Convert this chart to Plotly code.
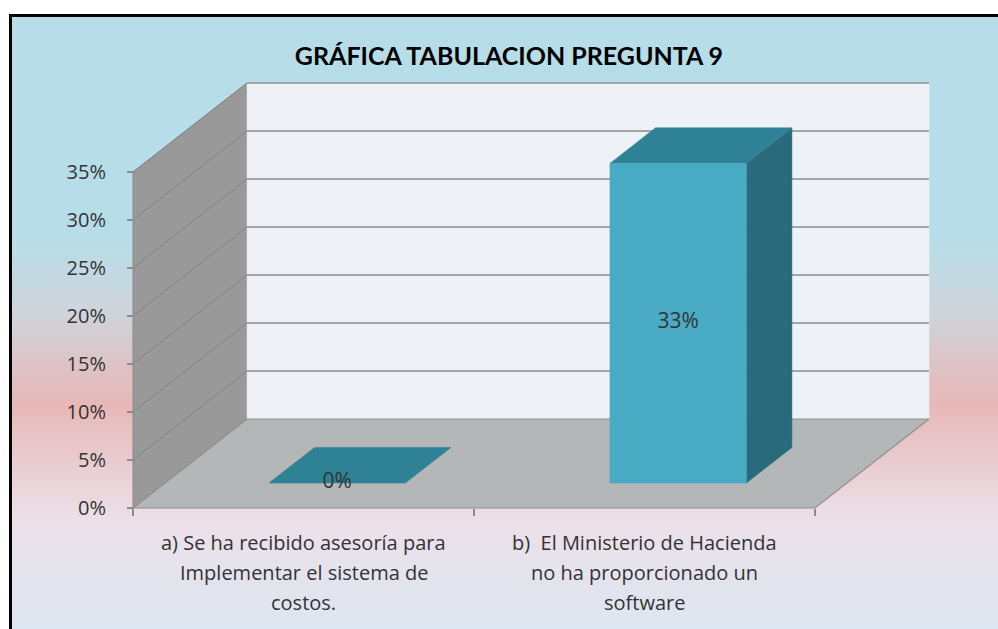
import plotly.graph_objects as go

# ---------------- data ----------------
title_text = "GRÁFICA TABULACION PREGUNTA 9"
categories = [
    "a) Se ha recibido asesoría para<br>Implementar el sistema de<br>costos.",
    "b)  El Ministerio de Hacienda<br>no ha proporcionado un<br>software",
]
values = [0.0, 33.3]
value_labels = ["0%", "33%"]
y_ticks = [0, 5, 10, 15, 20, 25, 30, 35]
y_tick_labels = ["0%", "5%", "10%", "15%", "20%", "25%", "30%", "35%"]

# ---------------- geometry / style ----------------
W, H = 998, 629
PX0, PY0 = 133, 508          # pixel of front-left corner (x=0, y=0)
PX_PER_CAT = 341.0
PX_PER_PCT = 9.6
DX = 114 / PX_PER_CAT        # depth offset (category units)
DY = 89 / PX_PER_PCT         # depth offset (percent units)
WALL_TOP = max(y_ticks)
NCAT = len(categories)
BAR_X0, BAR_X1 = 0.305, 0.705
BAR_D0, BAR_D1 = 0.28, 0.68

FONT = "Open Sans"
TITLE_FONT = "Lato"
C_FRONT = "#4aabc5"
C_TOP = "#2f8195"
C_SIDE = "#296b7b"
C_BACK = "#eef2f7"
C_SIDEWALL = "#999999"
C_FLOOR = "#b4b7b8"
C_GRID = "#8c8c8c"
C_TEXT = "#333333"


def P(x, y, d):
    return x + d * DX, y + d * DY


fig = go.Figure()


def poly(pts, fill, line_color=None, width=0.0):
    xs = [p[0] for p in pts] + [pts[0][0]]
    ys = [p[1] for p in pts] + [pts[0][1]]
    fig.add_trace(go.Scatter(
        x=xs, y=ys, mode="lines", fill="toself", fillcolor=fill,
        line=dict(color=line_color or fill, width=width),
        hoverinfo="skip", showlegend=False))


def seg(p, q, color, width):
    fig.add_trace(go.Scatter(
        x=[p[0], q[0]], y=[p[1], q[1]], mode="lines",
        line=dict(color=color, width=width),
        hoverinfo="skip", showlegend=False))


# side wall (x = 0)
poly([P(0, 0, 0), P(0, WALL_TOP, 0), P(0, WALL_TOP, 1), P(0, 0, 1)],
     C_SIDEWALL, "#8a8a8a", 1)
# back wall
poly([P(0, 0, 1), P(NCAT, 0, 1), P(NCAT, WALL_TOP, 1), P(0, WALL_TOP, 1)],
     C_BACK, C_BACK, 0.5)
# gridlines
for t in y_ticks[1:]:
    seg(P(0, t, 0), P(0, t, 1), "#848484", 1)
    seg(P(0, t, 1), P(NCAT, t, 1), C_GRID, 1.6)
# floor
poly([P(0, 0, 0), P(NCAT, 0, 0), P(NCAT, 0, 1), P(0, 0, 1)],
     C_FLOOR, "#8f8f8f", 1.2)

# bars
for i, v in enumerate(values):
    x0, x1 = i + BAR_X0, i + BAR_X1
    if v > 0:
        poly([P(x1, 0, BAR_D0), P(x1, 0, BAR_D1), P(x1, v, BAR_D1), P(x1, v, BAR_D0)],
             C_SIDE, C_SIDE, 0.5)
    poly([P(x0, v, BAR_D0), P(x1, v, BAR_D0), P(x1, v, BAR_D1), P(x0, v, BAR_D1)],
         C_TOP, C_TOP, 0.5)
    if v > 0:
        poly([P(x0, 0, BAR_D0), P(x1, 0, BAR_D0), P(x1, v, BAR_D0), P(x0, v, BAR_D0)],
             C_FRONT, C_FRONT, 0.5)

# data labels
lx, ly = [], []
for i, v in enumerate(values):
    cx, cy = P(i + (BAR_X0 + BAR_X1) / 2, v / 2, BAR_D0)
    lx.append(cx)
    ly.append(cy)
fig.add_trace(go.Scatter(
    x=lx, y=ly, mode="text", text=value_labels, textposition="middle center",
    textfont=dict(family=FONT, size=21, color=C_TEXT),
    hoverinfo="skip", showlegend=False))

# category labels (one annotation per line for Excel-like line spacing)
annotations = []
for i, cat in enumerate(categories):
    for k, line in enumerate(cat.split("<br>")):
        annotations.append(dict(
            x=i + 0.5, xref="x", y=1 - (542 + 30 * k) / H, yref="paper",
            text=line, showarrow=False, xanchor="center", yanchor="middle",
            font=dict(family=FONT, size=20, color=C_TEXT)))

# background gradient bands + border
stops = [(0, (183, 222, 232)), (240, (183, 222, 232)), (310, (206, 212, 220)),
         (405, (231, 184, 183)), (520, (236, 224, 233)), (629, (221, 230, 242))]


def col_at(y):
    for (y0, c0), (y1, c1) in zip(stops[:-1], stops[1:]):
        if y0 <= y <= y1:
            t = (y - y0) / (y1 - y0) if y1 > y0 else 0
            return "rgb(%d,%d,%d)" % tuple(round(a + (b - a) * t) for a, b in zip(c0, c1))
    return "rgb(%d,%d,%d)" % stops[-1][1]


shapes = []
band = 4
y = 16
while y < H:
    shapes.append(dict(type="rect", xref="paper", yref="paper", layer="below",
                       x0=11 / W, x1=1, y0=1 - min(y + band + 1, H) / H, y1=1 - y / H,
                       fillcolor=col_at(y + band / 2), line=dict(width=0)))
    y += band
shapes.append(dict(type="line", xref="paper", yref="paper", x0=9 / W, x1=1,
                   y0=1 - 15.5 / H, y1=1 - 15.5 / H, line=dict(color="black", width=3)))
shapes.append(dict(type="line", xref="paper", yref="paper", x0=10.5 / W, x1=10.5 / W,
                   y0=0, y1=1 - 14 / H, line=dict(color="black", width=3)))

fig.update_layout(
    width=W, height=H,
    margin=dict(l=0, r=0, t=0, b=0),
    paper_bgcolor="white", plot_bgcolor="rgba(0,0,0,0)",
    showlegend=False,
    title=dict(text=title_text, x=0.51, xanchor="center", y=1 - 56 / H, yanchor="middle",
               font=dict(family=TITLE_FONT, size=25, color="black", weight="bold")),
    xaxis=dict(range=[-PX0 / PX_PER_CAT, (W - PX0) / PX_PER_CAT], domain=[0, 1],
               anchor="free", position=(H - PY0) / H,
               tickvals=list(range(NCAT + 1)), ticktext=[""] * (NCAT + 1),
               ticks="outside", ticklen=7, tickcolor="#8c8c8c", tickwidth=1.5,
               showgrid=False, zeroline=False, showline=False, fixedrange=True),
    yaxis=dict(range=[-(H - PY0) / PX_PER_PCT, PY0 / PX_PER_PCT], domain=[0, 1],
               anchor="free", position=PX0 / W,
               tickvals=y_ticks, ticktext=y_tick_labels,
               ticks="outside", ticklen=6, tickcolor="#8c8c8c", tickwidth=1.5,
               ticklabelstandoff=17,
               tickfont=dict(family=FONT, size=20, color=C_TEXT),
               showgrid=False, zeroline=False, showline=False, fixedrange=True),
    shapes=shapes,
    annotations=annotations,
)

fig.write_html("out.html", config={"displayModeBar": False},
               post_script="document.body.style.margin='0';")
